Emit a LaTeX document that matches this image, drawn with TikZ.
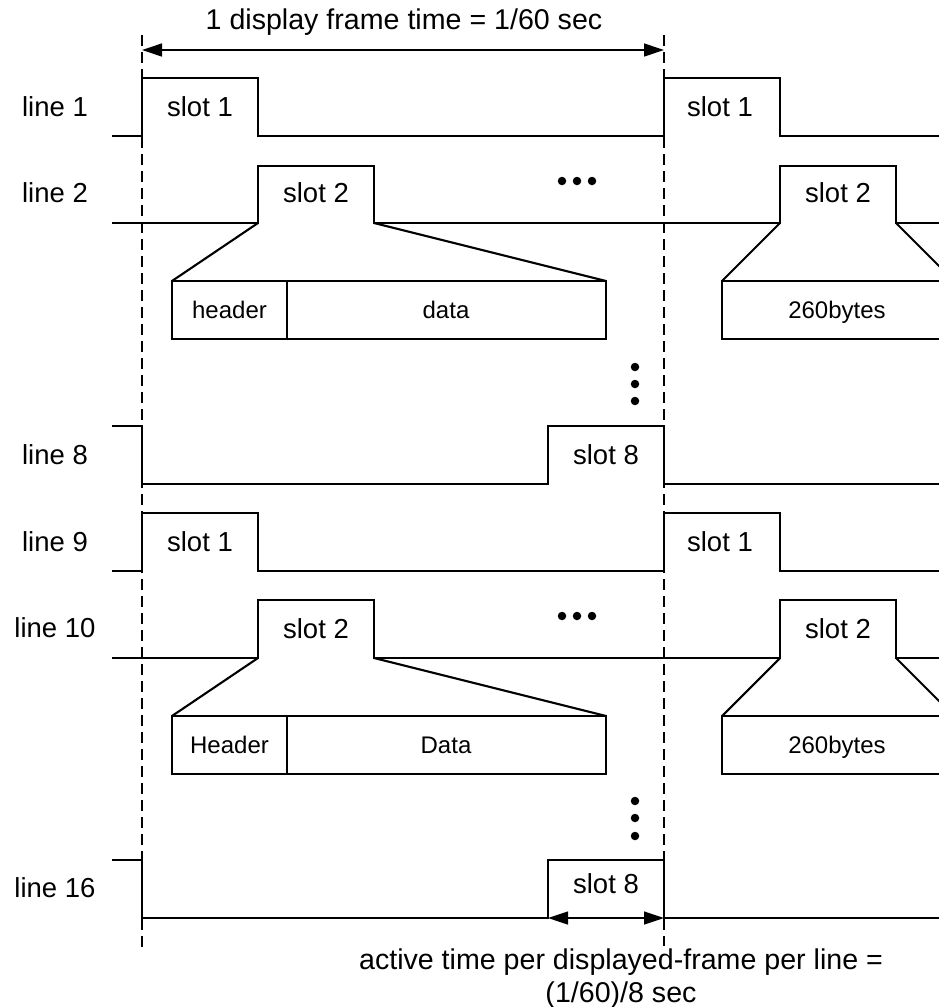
\documentclass[tikz,border=0pt]{standalone}
\usepackage{fontspec}
\setmainfont{Liberation Sans}
\usetikzlibrary{arrows.meta}
\begin{document}
\begin{tikzpicture}[x=1pt,y=-1pt,
  sig/.style={line width=2.3pt, line join=miter},
  guide/.style={line width=2pt, dash pattern=on 11pt off 6pt},
  boxl/.style={line width=2.1pt},
  divl/.style={line width=1.7pt},
  lbl/.style={font=\fontsize{27.5}{30}\selectfont, inner sep=0pt, text height=19.7pt, text depth=0pt},
  small/.style={font=\fontsize{24}{28}\selectfont, inner sep=0pt, text height=17.2pt, text depth=0pt},
  big/.style={font=\fontsize{28.6}{33}\selectfont, inner sep=0pt, anchor=base},
  dim/.style={line width=1.3pt, {Triangle[length=20pt,width=13pt]}-{Triangle[length=20pt,width=13pt]}},
  dot/.style={circle, fill, draw=none, inner sep=0pt, minimum size=8.5pt}
]
\useasboundingbox (0,0) rectangle (939,1007);
\clip (0,0) rectangle (939,1007);

% dashed guides
\coordinate (gLt) at (142,35);
\coordinate (gLb) at (142,948);
\coordinate (gRt) at (664,35);
\coordinate (gRb) at (664,946);
\draw[guide] (gLt) -- (gLb);
\draw[guide] (gRt) -- (gRb);

% title and frame arrow
\node[big] (title) at (404,29) {1 display frame time = 1/60 sec};
\coordinate (aL) at (142,50);
\coordinate (aR) at (664,50);
\draw[dim] (aL) -- (aR);

% line labels
\node[lbl] (l1) at (55,107) {line 1};
\node[lbl] (l2) at (55,193) {line 2};
\node[lbl] (l8) at (55,455) {line 8};
\node[lbl] (l9) at (55,542) {line 9};
\node[lbl] (l10) at (55,628) {line 10};
\node[lbl] (l16) at (55,888) {line 16};

% line 1
\draw[sig] (112,136) -- (142,136) -- (142,78) -- (258,78) -- (258,136) -- (664,136) -- (664,78) -- (780,78) -- (780,136) -- (945,136);
\node[lbl] (s11) at (200,107) {slot 1};
\node[lbl] (s11r) at (720,107) {slot 1};

% line 2
\draw[sig] (112,223) -- (258,223) -- (258,166) -- (374,166) -- (374,223) -- (780,223) -- (780,166) -- (896,166) -- (896,223) -- (945,223);
\node[lbl] (s22) at (316,193) {slot 2};
\node[lbl] (s22r) at (838,193) {slot 2};
\draw[boxl] (258,223) -- (172,281);
\draw[boxl] (374,223) -- (606,281);
\draw[boxl] (780,223) -- (722,281);
\draw[boxl] (896,223) -- (954,281);
\draw[boxl] (172,281) rectangle (606,339);
\draw[divl] (287,281) -- (287,339);
\draw[boxl] (722,281) rectangle (1000,339);
\node[small] (hd1) at (229.5,310) {header};
\node[small] (da1) at (446,310) {data};
\node[small] (by1) at (837,310) {260bytes};

% dots
\node[dot] (h1a) at (562,181) {};
\node[dot] (h1b) at (577,181) {};
\node[dot] (h1c) at (592,181) {};
\node[dot] (v1a) at (635,367) {};
\node[dot] (v1b) at (635,384) {};
\node[dot] (v1c) at (635,401) {};

% line 8
\draw[sig] (112,426) -- (142,426) -- (142,484) -- (548,484) -- (548,426) -- (664,426) -- (664,484) -- (945,484);
\node[lbl] (s88) at (606,455) {slot 8};

% line 9
\draw[sig] (112,571) -- (142,571) -- (142,513) -- (258,513) -- (258,571) -- (664,571) -- (664,513) -- (780,513) -- (780,571) -- (945,571);
\node[lbl] (s91) at (200,542) {slot 1};
\node[lbl] (s91r) at (720,542) {slot 1};

% line 10
\draw[sig] (112,658) -- (258,658) -- (258,600) -- (374,600) -- (374,658) -- (780,658) -- (780,600) -- (896,600) -- (896,658) -- (945,658);
\node[lbl] (s102) at (316,629) {slot 2};
\node[lbl] (s102r) at (838,629) {slot 2};
\draw[boxl] (258,658) -- (172,716);
\draw[boxl] (374,658) -- (606,716);
\draw[boxl] (780,658) -- (722,716);
\draw[boxl] (896,658) -- (954,716);
\draw[boxl] (172,716) rectangle (606,774);
\draw[divl] (287,716) -- (287,774);
\draw[boxl] (722,716) rectangle (1000,774);
\node[small] (hd2) at (229.5,745) {Header};
\node[small] (da2) at (446,745) {Data};
\node[small] (by2) at (837,745) {260bytes};

\node[dot] (h2a) at (562,616) {};
\node[dot] (h2b) at (577,616) {};
\node[dot] (h2c) at (592,616) {};
\node[dot] (v2a) at (635,801) {};
\node[dot] (v2b) at (635,818) {};
\node[dot] (v2c) at (635,836) {};

% line 16
\draw[sig] (112,860) -- (142,860) -- (142,918) -- (548,918) -- (548,860) -- (664,860) -- (664,918) -- (945,918);
\node[lbl] (s168) at (606,884) {slot 8};
\coordinate (bL) at (548,918);
\coordinate (bR) at (664,918);
\draw[dim] (bL) -- (bR);

% bottom caption
\node[big] (cap1) at (621,969) {active time per displayed-frame per line =};
\node[big] (cap2) at (621,1002) {(1/60)/8 sec};
\end{tikzpicture}
\end{document}
